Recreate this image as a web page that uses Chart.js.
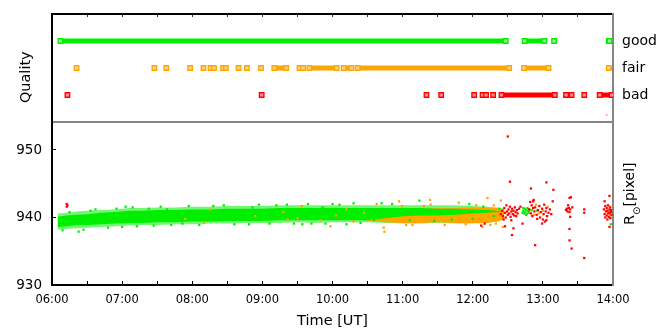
<!DOCTYPE html>
<html lang="en">
<head>
<meta charset="UTF-8">
<title>Quality and solar radius</title>
<script src="https://cdn.jsdelivr.net/npm/chart.js@4"></script>
<style>
  body { margin: 0; background: #fff; }
  #wrap { position: relative; width: 665px; height: 332px; }
  #top { position: absolute; left: 0; top: 0; width: 665px; height: 124px; }
  #bottom { position: absolute; left: 0; top: 122px; width: 665px; height: 210px; }
</style>
</head>
<body>
<div id="wrap">
  <canvas id="top" width="665" height="124"></canvas>
  <canvas id="bottom" width="665" height="210"></canvas>
</div>
<script>
// tick labels
const timeLabels = ['06:00', '07:00', '08:00', '09:00', '10:00', '11:00', '12:00', '13:00', '14:00'];
const qualityLabels = ['', 'bad', 'fair', 'good'];

// quality panel: runs of frames per class, [start, end] in hours UT
const goodSpans = [[6.12, 12.47], [12.74, 13.02], [13.16, 13.16], [13.94, 13.95]];
const fairSpans = [[6.35, 6.35], [7.46, 7.46], [7.63, 7.63], [7.97, 7.97], [8.16, 8.16], [8.26, 8.31],
  [8.44, 8.48], [8.66, 8.66], [8.78, 8.78], [8.98, 8.98], [9.17, 9.34], [9.53, 9.58], [9.67, 10.06],
  [10.16, 10.27], [10.36, 12.52], [12.73, 13.08], [13.94, 13.94]];
const badSpans = [[6.22, 6.22], [8.99, 8.99], [11.34, 11.34], [11.55, 11.55], [12.02, 12.02], [12.14, 12.19],
  [12.29, 12.29], [12.41, 13.17], [13.33, 13.41], [13.59, 13.59], [13.81, 13.98]];
const badStray = [[13.91, 0.26]];

// radius panel: dense cloud of good frames (core and thin edge)
const greenBandT = [6.08, 6.2, 6.35, 6.5, 6.7, 6.9, 7.1, 7.3, 7.5, 7.75, 8.0, 8.25, 8.5, 8.75, 9.0,
  9.25, 9.5, 9.75, 10.0, 10.25, 10.5, 10.75, 11.0, 11.25, 11.5, 11.75, 12.0, 12.2, 12.35, 12.45];
const greenCoreLo = [938.6, 938.7, 938.9, 938.9, 939.0, 939.1, 939.2, 939.2, 939.3, 939.3, 939.4, 939.4, 939.5, 939.5, 939.5,
  939.6, 939.6, 939.6, 939.6, 939.6, 939.6, 939.9, 940.2, 940.3, 940.3, 940.4, 940.6, 940.7, 940.8, 940.85];
const greenCoreHi = [940.1, 940.3, 940.4, 940.5, 940.7, 940.8, 941.0, 941.0, 941.1, 941.1, 941.2, 941.2, 941.3, 941.3, 941.3,
  941.4, 941.4, 941.4, 941.4, 941.4, 941.4, 941.4, 941.4, 941.4, 941.3, 941.3, 941.2, 941.1, 941.0, 940.9];
const greenEdgeLo = [938.2, 938.3, 938.4, 938.5, 938.6, 938.7, 938.8, 938.9, 938.9, 939.0, 939.0, 939.1, 939.1, 939.2, 939.2,
  939.2, 939.3, 939.2, 939.3, 939.3, 939.3, 939.2, 939.1, 939.1, 939.2, 939.1, 939.1, 939.2, 939.4, 939.7];
const greenEdgeHi = [940.6, 940.7, 940.9, 941.0, 941.1, 941.2, 941.4, 941.4, 941.5, 941.5, 941.6, 941.6, 941.7, 941.7, 941.7,
  941.8, 941.8, 941.8, 941.8, 941.8, 941.8, 941.8, 941.8, 941.8, 941.8, 941.8, 941.7, 941.6, 941.5, 941.3];
// fair frames mixed into the cloud after ~10:30
const orangeBandT = [10.4, 10.55, 10.75, 11.0, 11.25, 11.5, 11.75, 12.0, 12.2, 12.35, 12.45];
const orangeLo = [939.7, 939.5, 939.3, 939.2, 939.2, 939.3, 939.2, 939.2, 939.2, 939.4, 939.7];
const orangeHi = [939.9, 940.4, 941.0, 941.2, 941.3, 941.4, 941.4, 941.5, 941.5, 941.4, 941.2];

// single frames [time, radius]
const greenPts = [[6.15, 938.1], [6.25, 940.8], [6.38, 937.9], [6.45, 938.2], [6.55, 941.0], [6.62, 941.2],
  [6.8, 938.5], [6.92, 941.3], [7.0, 938.6], [7.05, 941.6], [7.15, 941.5], [7.21, 938.7], [7.38, 941.3],
  [7.45, 938.8], [7.55, 941.6], [7.64, 941.2], [7.7, 938.9], [7.86, 939.1], [7.95, 941.7], [8.1, 938.9],
  [8.3, 941.7], [8.45, 941.8], [8.6, 939.0], [8.81, 939.0], [8.86, 941.5], [8.95, 941.9], [9.1, 939.1],
  [9.2, 941.8], [9.35, 941.9], [9.45, 939.1], [9.57, 939.0], [9.65, 942.0], [9.7, 939.1], [9.86, 941.5],
  [9.9, 939.1], [10.0, 942.0], [10.1, 941.9], [10.2, 939.0], [10.3, 942.1], [10.4, 939.2], [10.59, 939.6],
  [10.7, 942.1], [10.85, 942.0], [11.1, 939.6], [11.24, 942.5], [11.45, 939.5], [11.7, 939.7], [11.95, 942.0],
  [12.0, 939.8], [12.15, 941.6], [12.3, 940.2], [12.38, 941.3], [12.71, 940.7], [12.72, 941.0], [12.72, 941.4],
  [12.73, 940.6], [12.74, 941.3], [12.75, 940.8], [12.76, 941.1], [12.76, 940.4], [12.77, 940.5], [12.78, 941.4],
  [12.79, 940.9], [12.80, 940.7], [12.81, 941.2], [12.84, 941.1], [12.92, 941.0], [13.97, 939.0]];
const orangePts = [[7.9, 939.8], [8.17, 939.2], [8.26, 941.2], [8.9, 940.2], [9.3, 940.8], [9.36, 939.7],
  [9.5, 939.9], [9.56, 941.7], [9.83, 939.6], [9.97, 938.7], [10.05, 940.3], [10.2, 941.2], [10.3, 939.4],
  [10.45, 940.7], [10.63, 942.0], [10.73, 938.5], [10.74, 937.9], [10.95, 942.4], [10.99, 941.7], [11.05, 938.9],
  [11.14, 938.9], [11.3, 941.7], [11.39, 942.6], [11.40, 941.9], [11.6, 938.9], [11.80, 942.2], [11.9, 939.0],
  [12.05, 941.8], [12.07, 939.4], [12.14, 938.6], [12.21, 942.9], [12.25, 938.9], [12.3, 941.8], [12.33, 939.1],
  [12.40, 942.5], [12.43, 938.6], [12.81, 941.0], [12.87, 940.4], [12.90, 941.9], [12.94, 940.6], [13.00, 941.0],
  [13.07, 941.6], [13.94, 940.9], [13.95, 941.6], [13.96, 940.4], [13.97, 940.0]];
const redPts = [[6.21, 941.6], [6.21, 942.0], [6.22, 941.8], [12.12, 938.8], [12.17, 939.1],
  [12.40, 940.5], [12.42, 941.0], [12.43, 940.2], [12.44, 939.7], [12.45, 941.4], [12.46, 940.7], [12.46, 938.7],
  [12.47, 940.0], [12.48, 941.8], [12.49, 940.9], [12.50, 940.4], [12.50, 952.0], [12.51, 941.2], [12.52, 940.6],
  [12.53, 941.6], [12.53, 945.3], [12.54, 940.1], [12.55, 940.9], [12.55, 939.6], [12.56, 941.3], [12.56, 937.4],
  [12.57, 940.5], [12.58, 941.0], [12.58, 938.4], [12.59, 940.3], [12.60, 941.5], [12.61, 940.8], [12.62, 940.2],
  [12.63, 941.1], [12.64, 940.6], [12.66, 941.3], [12.68, 941.6], [12.71, 939.1],
  [12.80, 941.2], [12.82, 942.3], [12.83, 940.6], [12.83, 944.3], [12.84, 941.8], [12.85, 940.2], [12.86, 941.4],
  [12.86, 942.4], [12.87, 942.6], [12.88, 940.9], [12.89, 941.5], [12.89, 935.9], [12.91, 940.4], [12.92, 939.8],
  [12.93, 941.1], [12.95, 941.7], [12.96, 940.0], [12.97, 940.8], [12.99, 941.3], [12.99, 939.1], [13.00, 939.7],
  [13.01, 940.5], [13.02, 941.9], [13.03, 939.4], [13.04, 940.9], [13.05, 941.4], [13.05, 945.2], [13.05, 939.6],
  [13.06, 940.2], [13.08, 940.7], [13.10, 941.2], [13.12, 940.5], [13.14, 942.4], [13.15, 944.1],
  [13.33, 941.1], [13.34, 941.3], [13.35, 940.9], [13.36, 941.8], [13.37, 941.4], [13.38, 940.8], [13.38, 942.9],
  [13.38, 938.3], [13.38, 936.6], [13.39, 941.2], [13.39, 940.1], [13.40, 943.0], [13.41, 935.4], [13.42, 941.5],
  [13.59, 941.2], [13.59, 940.7], [13.59, 934.0],
  [13.87, 941.2], [13.88, 940.5], [13.88, 942.4], [13.89, 941.7], [13.89, 940.0], [13.90, 940.9], [13.91, 941.4],
  [13.91, 940.3], [13.92, 941.0], [13.92, 939.7], [13.93, 940.6], [13.93, 941.8], [13.94, 940.1], [13.95, 941.2],
  [13.95, 940.7], [13.95, 943.2], [13.95, 938.6], [13.96, 941.5], [13.96, 939.9], [13.97, 940.8], [13.97, 941.1],
  [13.98, 940.4]];

const GREEN = '#00ee00';
const ORANGE = '#ffa500';
const RED = '#ff0000';
const GRAY = '#858585';
const FONT = 'DejaVu Sans';

Chart.defaults.font.family = FONT;
Chart.defaults.color = '#000';

function spansToData(spans, level) {
  const out = [];
  spans.forEach(([a, b]) => {
    out.push({x: a, y: level});
    if (b !== a) out.push({x: b, y: level});
    out.push({x: b, y: null});
  });
  return out;
}
const toXY = arr => arr.map(([x, y]) => ({x, y}));
const zipXY = (xs, ys) => xs.map((x, i) => ({x, y: ys[i]}));

function rowSet(spans, level, color, light) {
  return {
    data: spansToData(spans, level),
    borderColor: color, borderWidth: 4.8, borderCapStyle: 'butt',
    pointStyle: 'rect', pointRadius: 3.2, pointBorderWidth: 1.3,
    pointBorderColor: color, pointBackgroundColor: light, tension: 0
  };
}
function ptSet(pts, color, order) {
  return {
    data: toXY(pts), showLine: false, order,
    pointStyle: 'rect', pointRadius: 1.6, pointBorderWidth: 0,
    pointBackgroundColor: color
  };
}
function bandSet(xs, ys, fill, color, order) {
  return {
    data: zipXY(xs, ys), order, fill,
    borderColor: 'transparent', borderWidth: 0, pointRadius: 0,
    backgroundColor: color, tension: 0
  };
}
const inwardTicks = len => ({display: true, drawOnChartArea: false, drawTicks: true,
  tickLength: -len, color: '#000', lineWidth: 1});
// fixed axis sizes so both panels share the same plot frame
const fixW = w => s => { s.width = w; s.paddingTop = 0; s.paddingBottom = 0; };
const fixH = h => s => { s.height = h; s.paddingLeft = 0; s.paddingRight = 0; };

// ---- top panel: quality ----
new Chart(document.getElementById('top'), {
  type: 'line',
  data: {
    datasets: [
      rowSet(goodSpans, 3, GREEN, '#8ff58f'),
      rowSet(fairSpans, 2, ORANGE, '#ffd27f'),
      rowSet(badSpans, 1, RED, '#ff8f8f'),
      {data: toXY(badStray), showLine: false, pointStyle: 'rect', pointRadius: 1.1,
        pointBorderWidth: 0, pointBackgroundColor: '#ff8080'}
    ]
  },
  options: {
    responsive: false, animation: false, devicePixelRatio: 1, events: [],
    layout: {padding: 0, autoPadding: false},
    plugins: {legend: {display: false}, tooltip: {enabled: false}},
    scales: {
      x: {
        type: 'linear', position: 'top', min: 6, max: 14,
        ticks: {display: false, stepSize: 0.5},
        grid: {...inwardTicks(3), color: '#333'},
        border: {color: '#000', width: 2},
        afterFit: fixH(14)
      },
      xb: {
        type: 'linear', position: 'bottom', min: 6, max: 14,
        ticks: {display: false}, grid: {display: false},
        border: {color: GRAY, width: 2},
        afterFit: fixH(2)
      },
      y: {
        position: 'left', min: 0, max: 4,
        ticks: {display: false}, grid: {display: false},
        border: {color: '#000', width: 2},
        title: {display: true, text: 'Quality    ', font: {size: 14.5}, padding: {top: 18, bottom: 0}},
        afterFit: fixW(52)
      },
      y2: {
        type: 'linear', position: 'right', min: 0, max: 4,
        ticks: {stepSize: 1, padding: 13, font: {size: 14},
          callback: v => qualityLabels[v] || null},
        grid: inwardTicks(4),
        border: {color: GRAY, width: 2},
        afterFit: fixW(52)
      }
    }
  }
});

// ---- bottom panel: solar radius ----
const radiusTitle = {
  id: 'radiusTitle',
  afterDraw(chart) {
    const ctx = chart.ctx;
    ctx.save();
    ctx.translate(634, 103);
    ctx.rotate(-Math.PI / 2);
    ctx.fillStyle = '#000';
    ctx.textAlign = 'left';
    ctx.textBaseline = 'alphabetic';
    ctx.font = '14.5px "' + FONT + '"';
    ctx.fillText('R', 0, 0);
    let w = ctx.measureText('R').width;
    ctx.font = '10px "' + FONT + '"';
    ctx.fillText('\u2299', w, 6);
    w += ctx.measureText('\u2299').width;
    ctx.font = '14px "' + FONT + '"';
    ctx.fillText('[pixel]', w, 0);
    ctx.restore();
  }
};

new Chart(document.getElementById('bottom'), {
  type: 'line',
  data: {
    datasets: [
      ptSet(redPts, RED, 0),
      ptSet(greenPts, GREEN, 1),
      ptSet(orangePts, ORANGE, 2),
      bandSet(greenBandT, greenCoreHi, '+1', GREEN, 3),
      bandSet(greenBandT, greenCoreLo, false, GREEN, 3),
      bandSet(orangeBandT, orangeHi, '+1', ORANGE, 4),
      bandSet(orangeBandT, orangeLo, false, ORANGE, 4),
      bandSet(greenBandT, greenEdgeHi, '+1', 'rgba(0,238,0,0.55)', 5),
      bandSet(greenBandT, greenEdgeLo, false, 'rgba(0,238,0,0.55)', 5)
    ]
  },
  options: {
    responsive: false, animation: false, devicePixelRatio: 1, events: [],
    layout: {padding: {top: 1}, autoPadding: false},
    plugins: {legend: {display: false}, tooltip: {enabled: false}},
    scales: {
      x: {
        type: 'linear', position: 'bottom', min: 6, max: 14,
        ticks: {stepSize: 0.5, padding: 12, maxRotation: 0, autoSkip: false, font: {size: 11.5},
          callback: v => Number.isInteger(v) ? timeLabels[v - 6] : ''},
        grid: inwardTicks(4),
        border: {color: '#000', width: 2},
        title: {display: true, text: 'Time [UT]', font: {size: 14.5}, padding: {top: 0, bottom: 2}},
        afterFit: fixH(47)
      },
      y: {
        position: 'left', min: 930, max: 954,
        ticks: {stepSize: 10, includeBounds: false, padding: 14, font: {size: 13.5}},
        grid: inwardTicks(4),
        border: {color: '#000', width: 2},
        afterFit: fixW(52)
      },
      y2: {
        type: 'linear', position: 'right', min: 930, max: 954,
        ticks: {display: false}, grid: {display: false},
        border: {color: GRAY, width: 2},
        afterFit: fixW(52)
      }
    }
  },
  plugins: [radiusTitle]
});
</script>
</body>
</html>
